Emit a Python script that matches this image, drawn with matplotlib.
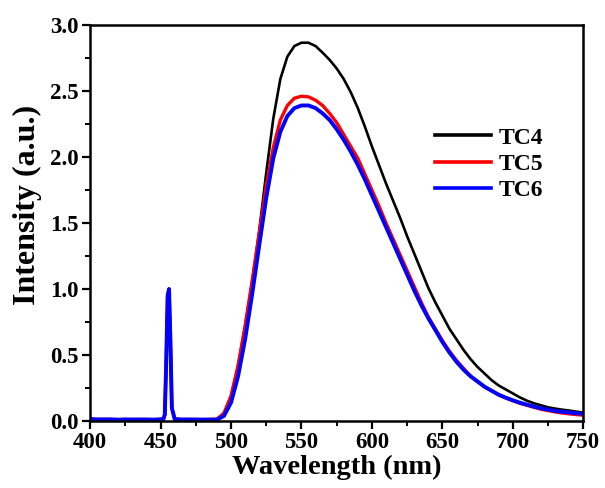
import numpy as np
import matplotlib
matplotlib.use("Agg")
import matplotlib.pyplot as plt
from matplotlib.ticker import MultipleLocator, FormatStrFormatter

plt.rcParams['font.family'] = ['Liberation Serif', 'DejaVu Serif']
plt.rcParams['font.weight'] = 'bold'

# wavelength grid (nm)
wl = [400, 405, 410, 415, 420, 425, 430, 435, 440, 445, 450, 452, 453, 454, 455, 456, 457, 458, 460,
      465, 470, 475, 480, 485, 490, 495, 500, 505, 510, 515, 520, 525, 530, 535, 540, 545, 550,
      555, 560, 565, 570, 575, 580, 585, 590, 595, 600, 605, 610, 615, 620, 625, 630, 635, 640,
      645, 650, 655, 660, 665, 670, 675, 680, 685, 690, 695, 700, 705, 710, 715, 720, 725, 730,
      735, 740, 745, 750]

# baseline + excitation line (400-485 nm)
base_black = [0.012, 0.015, 0.010, 0.013, 0.011, 0.014, 0.010, 0.012, 0.011, 0.013, 0.012, 0.015, 0.05, 0.45, 0.95, 1.0, 0.60, 0.10, 0.015,
              0.012, 0.011, 0.013, 0.012, 0.014]
base_red = [0.014, 0.012, 0.015, 0.011, 0.013, 0.012, 0.014, 0.011, 0.013, 0.012, 0.014, 0.015, 0.05, 0.45, 0.95, 1.0, 0.60, 0.10, 0.015,
            0.013, 0.012, 0.014, 0.011, 0.013]
base_blue = [0.016, 0.013, 0.012, 0.014, 0.010, 0.013, 0.011, 0.013, 0.012, 0.011, 0.013, 0.016, 0.05, 0.45, 0.95, 1.0, 0.60, 0.10, 0.016,
             0.012, 0.013, 0.011, 0.012, 0.012]

# emission band (490-750 nm)
emis_tc4 = [0.015, 0.06, 0.19, 0.42, 0.72, 1.06, 1.44, 1.88, 2.29, 2.59, 2.76, 2.84, 2.865,
            2.865, 2.84, 2.79, 2.735, 2.67, 2.59, 2.49, 2.37, 2.23, 2.08, 1.94, 1.80, 1.67, 1.54,
            1.40, 1.27, 1.14, 1.01, 0.90, 0.80, 0.70, 0.62, 0.54, 0.47, 0.41, 0.36, 0.31, 0.27,
            0.24, 0.21, 0.18, 0.155, 0.135, 0.12, 0.105, 0.095, 0.087, 0.08, 0.072, 0.065]
emis_tc5 = [0.015, 0.06, 0.19, 0.42, 0.72, 1.06, 1.42, 1.78, 2.07, 2.28, 2.39, 2.445, 2.46,
            2.455, 2.43, 2.39, 2.33, 2.26, 2.17, 2.08, 1.99, 1.87, 1.75, 1.63, 1.50, 1.38, 1.26,
            1.14, 1.02, 0.90, 0.79, 0.70, 0.61, 0.53, 0.46, 0.40, 0.34, 0.30, 0.26, 0.23, 0.20,
            0.175, 0.155, 0.135, 0.12, 0.105, 0.09, 0.08, 0.07, 0.062, 0.055, 0.05, 0.045]
emis_tc6 = [0.01, 0.04, 0.14, 0.34, 0.62, 0.96, 1.33, 1.69, 1.99, 2.19, 2.31, 2.37, 2.39,
            2.39, 2.37, 2.33, 2.28, 2.21, 2.13, 2.04, 1.94, 1.83, 1.71, 1.59, 1.47, 1.35, 1.23,
            1.11, 0.99, 0.88, 0.78, 0.69, 0.60, 0.52, 0.45, 0.39, 0.34, 0.30, 0.26, 0.23, 0.20,
            0.178, 0.158, 0.14, 0.125, 0.11, 0.097, 0.087, 0.078, 0.071, 0.065, 0.06, 0.055]

tc4 = base_black + emis_tc4
tc5 = base_red + emis_tc5
tc6 = base_blue + emis_tc6

fig = plt.figure(figsize=(6.05, 4.88), dpi=100)
ax = fig.add_axes([0.149, 0.137, 0.815, 0.812])

ax.plot(wl, tc4, color='black', lw=1.9, label='TC4')
ax.plot(wl, tc5, color='#ff0000', lw=2.4, label='TC5')
ax.plot(wl, tc6, color='#0000ff', lw=2.8, label='TC6')

ax.set_xlim(400, 750)
ax.set_ylim(0, 3.0)
ax.xaxis.set_major_locator(MultipleLocator(50))
ax.xaxis.set_minor_locator(MultipleLocator(25))
ax.yaxis.set_major_locator(MultipleLocator(0.5))
ax.yaxis.set_minor_locator(MultipleLocator(0.25))
ax.yaxis.set_major_formatter(FormatStrFormatter('%.1f'))

ax.tick_params(which='major', direction='out', length=6, width=1.6, labelsize=16.5, pad=2)
ax.tick_params(which='minor', direction='out', length=3.5, width=1.4)
for s in ax.spines.values():
    s.set_linewidth(1.8)

ax.set_xlabel('Wavelength (nm)', fontsize=20.5, fontweight='bold', labelpad=1)
ax.set_ylabel('Intensity (a.u.)', fontsize=23, fontweight='bold')
ax.yaxis.set_label_coords(-0.098, 0.545)

leg = ax.legend(loc='upper left', bbox_to_anchor=(0.70, 0.742), frameon=False,
                fontsize=17, handlelength=2.35, handletextpad=0.35, labelspacing=0.2,
                borderpad=0, borderaxespad=0)
for line in leg.get_lines():
    line.set_linewidth(2.6)

fig.savefig('out.png', dpi=100)
